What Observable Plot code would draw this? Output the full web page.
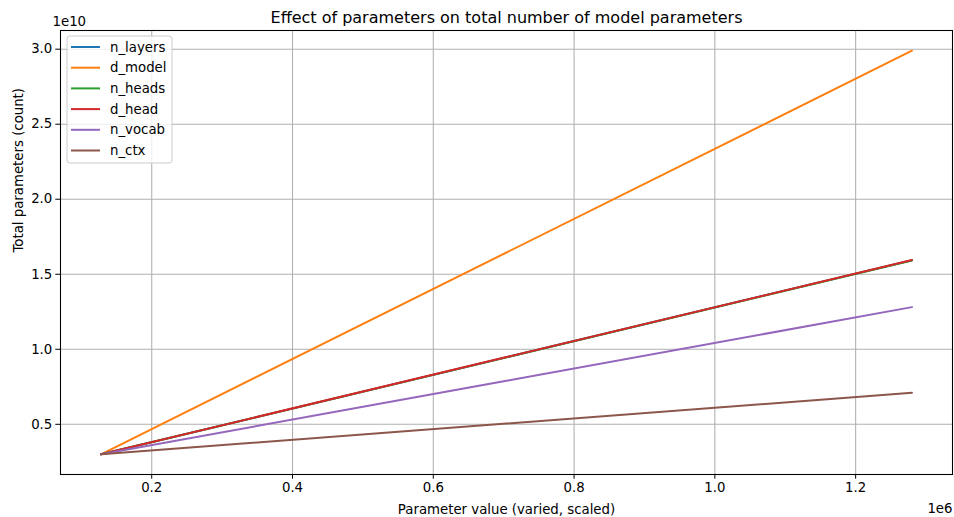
<!DOCTYPE html>
<html>
<head>
<meta charset="utf-8">
<script src="https://cdn.jsdelivr.net/npm/d3@7"></script>
<script src="https://cdn.jsdelivr.net/npm/@observablehq/plot@0.6"></script>
<style>
  html, body { margin: 0; padding: 0; background: white; }
  #chart { width: 954px; height: 517px; overflow: hidden; }
</style>
</head>
<body>
<div id="chart"></div>
<script>
// ---- data ----
const seriesNames = ["n_layers", "d_model", "n_heads", "d_head", "n_vocab", "n_ctx"];
const seriesColors = ["#1f77b4", "#ff7f0e", "#2ca02c", "#d62728", "#9467bd", "#8c564b"];
const paramValues = [128000, 704000, 1280000];
const nLayers = [3.0e9, 9.47e9, 15.94e9];
const dModel  = [3.0e9, 16.45e9, 29.9e9];
const nHeads  = [3.0e9, 9.46e9, 15.92e9];
const dHead   = [3.0e9, 9.48e9, 15.95e9];
const nVocab  = [3.0e9, 7.90e9, 12.81e9];
const nCtx    = [3.0e9, 5.05e9, 7.10e9];
const xTicks = [200000, 400000, 600000, 800000, 1000000, 1200000];
const yTicks = [5e9, 10e9, 15e9, 20e9, 25e9, 30e9];
const titleText = "Effect of parameters on total number of model parameters";
const xLabel = "Parameter value (varied, scaled)";
const yLabel = "Total parameters (count)";

const seriesValues = [nLayers, dModel, nHeads, dHead, nVocab, nCtx];
const rows = [];
seriesNames.forEach((name, i) => {
  paramValues.forEach((x, j) => rows.push({series: name, x, y: seriesValues[i][j]}));
});

const font = "DejaVu Sans, Liberation Sans, sans-serif";
const gridColor = "#b0b0b0";
const fs = 13.3;

const plot = Plot.plot({
  width: 954,
  height: 517,
  marginLeft: 60,
  marginRight: 2,
  marginTop: 30,
  marginBottom: 43,
  style: {fontFamily: font, fontSize: fs + "px", background: "white", color: "black"},
  x: {domain: [70400, 1337600], label: null},
  y: {domain: [1.655e9, 3.1245e10], label: null},
  color: {domain: seriesNames, range: seriesColors},
  marks: [
    Plot.gridX(xTicks, {stroke: gridColor, strokeOpacity: 1, strokeWidth: 1.07}),
    Plot.gridY(yTicks, {stroke: gridColor, strokeOpacity: 1, strokeWidth: 1.07}),
    Plot.line(rows, {x: "x", y: "y", z: "series", stroke: "series", strokeWidth: 2}),
    Plot.frame({stroke: "black", strokeWidth: 1.07}),
    Plot.axisX(xTicks, {tickSize: 4.7, tickPadding: 3.5, tickFormat: d => (d / 1e6).toFixed(1), label: null, fontSize: fs}),
    Plot.axisY(yTicks, {tickSize: 4.7, tickPadding: 3.5, tickFormat: d => (d / 1e10).toFixed(1), label: null, fontSize: fs}),
    Plot.text([titleText], {text: d => d, frameAnchor: "top", lineAnchor: "middle", dy: -13, fontSize: 16}),
    Plot.text([xLabel], {text: d => d, frameAnchor: "bottom", lineAnchor: "middle", dy: 35, fontSize: fs}),
    Plot.text([yLabel], {text: d => d, frameAnchor: "left", lineAnchor: "middle", dx: -42, rotate: -90, fontSize: fs}),
    Plot.text(["1e10"], {text: d => d, frameAnchor: "top-left", lineAnchor: "middle", textAnchor: "start", dx: -8, dy: -9, fontSize: fs}),
    Plot.text(["1e6"], {text: d => d, frameAnchor: "bottom-right", lineAnchor: "middle", textAnchor: "end", dx: 0, dy: 34, fontSize: fs})
  ]
});

document.getElementById("chart").appendChild(plot);

// legend (matplotlib-style, upper left)
const svg = d3.select(plot);
const lg = svg.append("g").attr("font-family", font).attr("font-size", fs).attr("text-anchor", "start");
lg.append("rect")
  .attr("x", 67).attr("y", 36).attr("width", 105).attr("height", 127)
  .attr("rx", 3).attr("fill", "white").attr("fill-opacity", 0.8)
  .attr("stroke", "#cccccc").attr("stroke-width", 1);
seriesNames.forEach((name, i) => {
  const yy = 47 + i * 20.7;
  lg.append("line").attr("x1", 71).attr("x2", 100).attr("y1", yy).attr("y2", yy)
    .attr("stroke", seriesColors[i]).attr("stroke-width", 2);
  lg.append("text").attr("x", 110).attr("y", yy).attr("dy", "0.35em")
    .attr("fill", "black").attr("text-anchor", "start").text(name);
});
</script>
</body>
</html>
